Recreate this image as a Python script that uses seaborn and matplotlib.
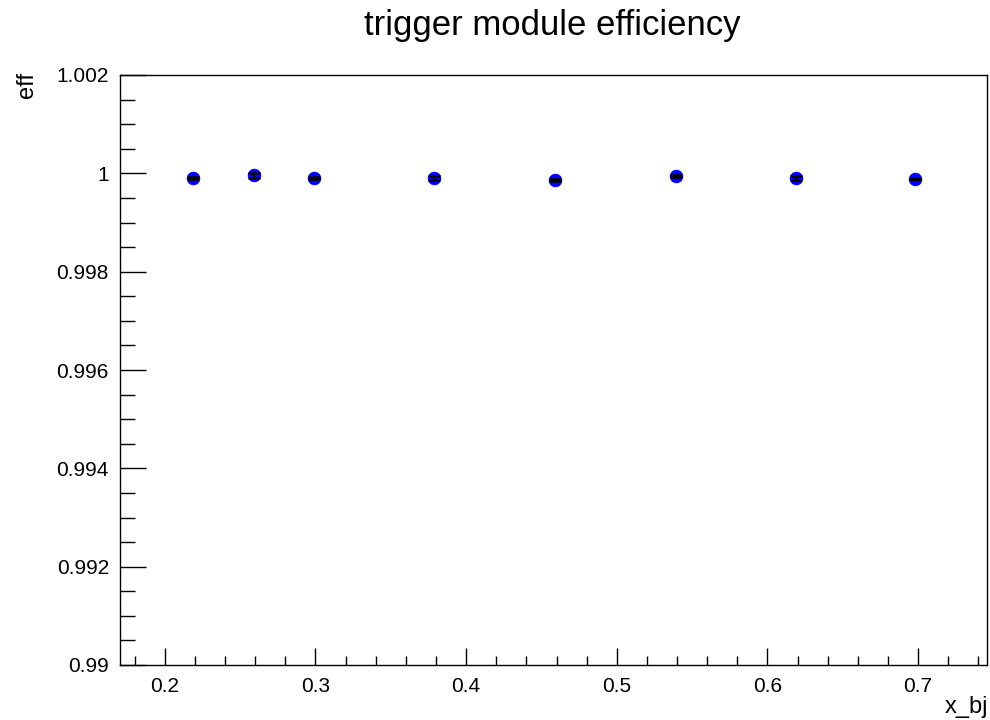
import matplotlib
matplotlib.use("Agg")
import matplotlib.pyplot as plt
import seaborn as sns
import pandas as pd
from matplotlib.ticker import MultipleLocator, FuncFormatter

# data
x_bj = [0.219, 0.259, 0.299, 0.379, 0.459, 0.539, 0.619, 0.698]
eff = [0.99990, 0.99996, 0.99990, 0.99990, 0.99987, 0.99994, 0.99990, 0.99989]
eff_err = [0.00002, 0.00005, 0.00002, 0.00004, 0.00002, 0.00002, 0.00004, 0.0]
title = "trigger module efficiency"
xlabel = "x_bj"
ylabel = "eff"

df = pd.DataFrame({"x_bj": x_bj, "eff": eff, "err": eff_err})

sns.set_style("ticks")
plt.rcParams['font.family'] = ['Liberation Sans', 'DejaVu Sans']
plt.rcParams['text.color'] = 'black'
plt.rcParams['xtick.color'] = 'black'
plt.rcParams['ytick.color'] = 'black'
plt.rcParams['axes.edgecolor'] = 'black'

fig = plt.figure(figsize=(9.9, 7.2), dpi=100)
ax = fig.add_axes([120/990, 55/720, 867/990, 590/720])

sns.scatterplot(data=df, x="x_bj", y="eff", ax=ax, color="#0000ff", s=85,
                edgecolor="#0000ff", linewidth=0.5, zorder=3, legend=False)
ax.errorbar(df["x_bj"], df["eff"], yerr=df["err"], fmt="none", ecolor="black",
            elinewidth=1.5, capsize=4.5, capthick=1.8, zorder=4)

ax.set_xlim(0.1703, 0.7457)
ax.set_ylim(0.99, 1.002)
ax.xaxis.set_major_locator(MultipleLocator(0.1))
ax.xaxis.set_minor_locator(MultipleLocator(0.02))
ax.yaxis.set_major_locator(MultipleLocator(0.002))
ax.yaxis.set_minor_locator(MultipleLocator(0.0005))
ax.yaxis.set_major_formatter(FuncFormatter(lambda v, p: f"{round(v, 6):g}"))
ax.xaxis.set_major_formatter(FuncFormatter(lambda v, p: f"{round(v, 6):g}"))

ax.tick_params(axis="y", which="major", direction="in", length=19, width=1, labelsize=15, pad=8,
               colors="black")
ax.tick_params(axis="y", which="minor", direction="in", length=10.5, width=1, colors="black")
ax.tick_params(axis="x", which="major", direction="in", length=12, width=1, labelsize=15, pad=9,
               colors="black")
ax.tick_params(axis="x", which="minor", direction="in", length=6.5, width=1, colors="black")
ax.tick_params(top=False, right=False, which="both")
for s in ax.spines.values():
    s.set_visible(True)
    s.set_linewidth(1.0)
    s.set_color("black")
ax.set_xlabel("")
ax.set_ylabel("")

fig.text(552/990, 1 - 25/720, title, ha="center", va="center", fontsize=25, color="black")
fig.text(27/990, 1 - 72/720, ylabel, ha="center", va="top", rotation=90, fontsize=17, color="black")
fig.text(988/990, 1 - 707/720, xlabel, ha="right", va="center", fontsize=17, color="black")

fig.savefig("out.png", dpi=100)
